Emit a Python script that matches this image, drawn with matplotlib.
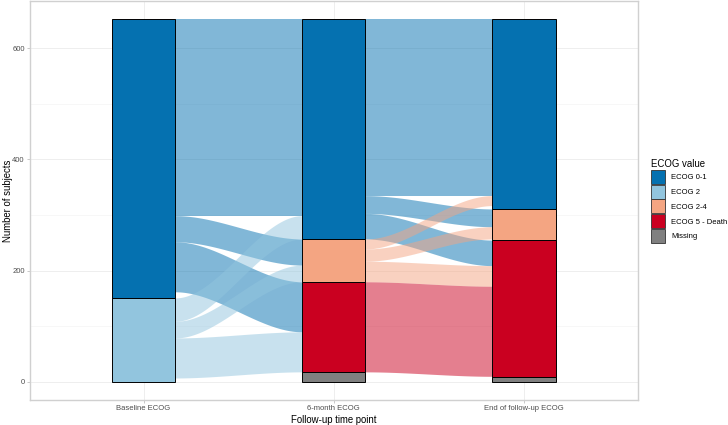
import matplotlib
matplotlib.use("Agg")
import matplotlib.pyplot as plt
from matplotlib.patches import Rectangle, Patch
import numpy as np

plt.rcParams['font.family'] = ['Liberation Sans', 'DejaVu Sans']

# axes (time points) and strata levels, top to bottom
time_points = ["Baseline ECOG", "6-month ECOG", "End of follow-up ECOG"]
levels = ["ECOG 0-1", "ECOG 2", "ECOG 2-4", "ECOG 5 - Death", "Missing"]
level_colors = ["#0571B0", "#92C5DE", "#F4A582", "#CA0020", "#808080"]

# transitions baseline -> 6 months
src_1 = ["ECOG 0-1", "ECOG 0-1", "ECOG 0-1", "ECOG 0-1",
         "ECOG 2", "ECOG 2", "ECOG 2", "ECOG 2"]
dst_1 = ["ECOG 0-1", "ECOG 2-4", "ECOG 5 - Death", "Missing",
         "ECOG 0-1", "ECOG 2-4", "ECOG 5 - Death", "Missing"]
n_1 = [353, 47, 90, 11, 42, 30, 72, 7]

# transitions 6 months -> end of follow-up
src_2 = ["ECOG 0-1", "ECOG 0-1", "ECOG 0-1",
         "ECOG 2-4", "ECOG 2-4", "ECOG 2-4",
         "ECOG 5 - Death",
         "Missing", "Missing", "Missing", "Missing"]
dst_2 = ["ECOG 0-1", "ECOG 2-4", "ECOG 5 - Death",
         "ECOG 0-1", "ECOG 2-4", "ECOG 5 - Death",
         "ECOG 5 - Death",
         "ECOG 0-1", "ECOG 2-4", "ECOG 5 - Death", "Missing"]
n_2 = [317, 32, 46, 18, 22, 37, 162, 6, 2, 2, 8]

color_map = dict(zip(levels, level_colors))
rank = {lv: i for i, lv in enumerate(levels)}
width = 1 / 3


def stratum_totals(labels, counts):
    tot = {}
    for lab, c in zip(labels, counts):
        tot[lab] = tot.get(lab, 0) + c
    return tot


def stratum_bounds(tot):
    """top/bottom of each stratum, first level on top."""
    bounds = {}
    y = 0
    for lv in reversed(levels):
        if lv in tot:
            bounds[lv] = (y + tot[lv], y)
            y += tot[lv]
    return bounds


totals = [stratum_totals(src_1, n_1), stratum_totals(dst_1, n_1),
          stratum_totals(dst_2, n_2)]
bounds = [stratum_bounds(t) for t in totals]


def draw_flows(ax, x0, b0, b1, src, dst, n):
    idx = list(range(len(n)))
    # right side of source: ordered by destination within source
    out_pos = {}
    cursor = {lv: b0[lv][0] for lv in b0}
    for i in sorted(idx, key=lambda k: (rank[src[k]], rank[dst[k]])):
        top = cursor[src[i]]
        out_pos[i] = (top, top - n[i])
        cursor[src[i]] = top - n[i]
    in_pos = {}
    cursor = {lv: b1[lv][0] for lv in b1}
    for i in sorted(idx, key=lambda k: (rank[dst[k]], rank[src[k]])):
        top = cursor[dst[i]]
        in_pos[i] = (top, top - n[i])
        cursor[dst[i]] = top - n[i]

    t = np.linspace(0, 1, 80)
    s = t * t * (3 - 2 * t)
    xs = x0 + width / 2 + (1 - width) * t
    for i in sorted(idx, key=lambda k: (rank[src[k]], rank[dst[k]])):
        if src[i] == "Missing" or dst[i] == "Missing":
            continue
        (a_top, a_bot), (b_top, b_bot) = out_pos[i], in_pos[i]
        top = a_top + (b_top - a_top) * s
        bot = a_bot + (b_bot - a_bot) * s
        ax.fill_between(xs, bot, top, color=color_map[src[i]], alpha=0.5,
                        linewidth=0, zorder=2)


fig = plt.figure(figsize=(7.28, 4.25), dpi=100)
ax = fig.add_axes([29.5 / 728, 25 / 425, (638 - 29.5) / 728, (400 - 1.2) / 425])

draw_flows(ax, 1, bounds[0], bounds[1], src_1, dst_1, n_1)
draw_flows(ax, 2, bounds[1], bounds[2], src_2, dst_2, n_2)

for k, b in enumerate(bounds):
    for lv, (top, bot) in b.items():
        ax.add_patch(Rectangle((k + 1 - width / 2, bot), width, top - bot,
                               facecolor=color_map[lv], edgecolor='black',
                               linewidth=0.7, zorder=3))

grand = sum(n_1)
pad = grand * 0.05
ax.set_xlim(0.4, 3.6)
ax.set_ylim(-pad, grand + pad)
ax.set_xticks([1, 2, 3])
ax.set_xticklabels(time_points)
ax.set_yticks([0, 200, 400, 600])
ax.set_yticks([100, 300, 500], minor=True)
ax.grid(True, which='major', color='#EBEBEB', linewidth=0.6, zorder=0)
ax.grid(True, which='minor', axis='y', color='#F2F2F2', linewidth=0.4, zorder=0)
ax.set_axisbelow(True)
ax.tick_params(axis='both', which='major', labelsize=5.5, labelcolor='#4D4D4D',
               color='#B3B3B3', length=2, width=0.5, pad=1.5)
ax.tick_params(axis='y', which='minor', length=0)
for sp in ax.spines.values():
    sp.set_color('#D0D0D0')
    sp.set_linewidth(1.0)
ax.set_xlabel("Follow-up time point", fontsize=6.9, labelpad=2)
ax.set_ylabel("Number of subjects", fontsize=6.9)
ax.yaxis.set_label_coords(-0.027, 0.5)

handles = [Patch(facecolor=c, edgecolor='#333333', linewidth=0.6, label=lv)
           for lv, c in zip(levels, level_colors)]
leg = fig.legend(handles=handles, loc='upper left', bbox_to_anchor=(648 / 728, 1 - 156 / 425),
                 frameon=False, title="ECOG value", fontsize=5.5, title_fontsize=6.9,
                 handlelength=1.8, handleheight=2.45, labelspacing=0.1,
                 handletextpad=0.8, borderaxespad=0, alignment='left')

fig.savefig("out.png", dpi=100)
